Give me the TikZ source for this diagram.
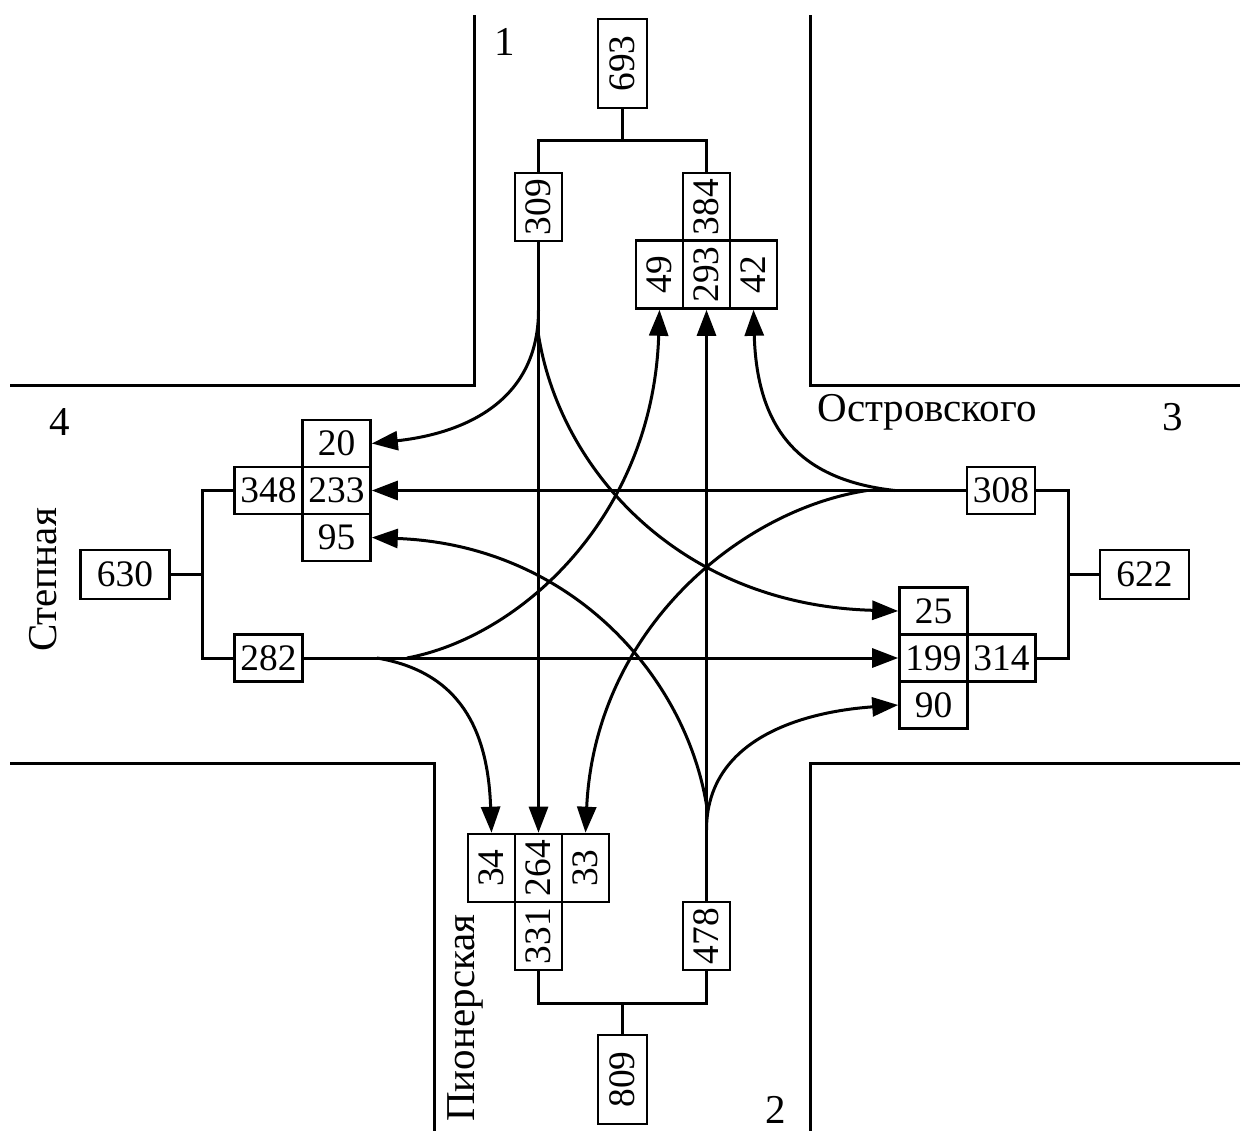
\documentclass[tikz,border=0pt]{standalone}
\usepackage{fontspec}
\setmainfont{Liberation Serif}
\usetikzlibrary{arrows.meta}
\begin{document}
\begin{tikzpicture}[x=0.5pt,y=-0.5pt,
  box/.style={draw, line width=1.3pt, inner sep=0.5pt, minimum width=34pt, minimum height=23.5pt},
  bigbox/.style={box, minimum width=44.5pt, minimum height=24.5pt},
  vbox/.style={box, rotate=90},
  vbigbox/.style={bigbox, rotate=90},
  road/.style={line width=1.5pt, line join=miter},
  link/.style={line width=1.5pt},
  arr/.style={line width=1.5pt, -{Triangle[length=13pt,width=9.5pt]}},
  lbl/.style={}]
\useasboundingbox (0,0) rectangle (1243,1131);
% roads
\draw[road] (474,15) -- (474,385) -- (10,385);
\draw[road] (810,15) -- (810,385) -- (1240,385);
\draw[road] (10,763) -- (434,763) -- (434,1131);
\draw[road] (1240,763) -- (810,763) -- (810,1131);
% labels
\node[lbl] (r1) at (505,42) {\fontsize{20.5pt}{24pt}\selectfont 1};
\node[lbl] (r2) at (776,1110) {\fontsize{20.5pt}{24pt}\selectfont 2};
\node[lbl] (r3) at (1173,417) {\fontsize{20.5pt}{24pt}\selectfont 3};
\node[lbl] (r4) at (60,422) {\fontsize{20.5pt}{24pt}\selectfont 4};
\node[lbl] (ostr) at (927,412) {\fontsize{20.5pt}{24pt}\selectfont Островского};
\node[lbl, rotate=90] (stp) at (43,580) {\fontsize{20.5pt}{24pt}\selectfont Степная};
\node[lbl, rotate=90] (pion) at (465,1018) {\fontsize{20.5pt}{24pt}\selectfont Пионерская};
% north group
\node[vbigbox] (n693) at (622.5,63.5) {\fontsize{18.7pt}{22pt}\selectfont 693};
\node[vbox] (n309) at (538.5,207) {\fontsize{18.7pt}{22pt}\selectfont 309};
\node[vbox] (n384) at (706.5,207) {\fontsize{18.7pt}{22pt}\selectfont 384};
\node[vbox] (n49) at (659.5,274.5) {\fontsize{18.7pt}{22pt}\selectfont 49};
\node[vbox] (n293) at (706.5,274.5) {\fontsize{18.7pt}{22pt}\selectfont 293};
\node[vbox] (n42) at (753.5,274.5) {\fontsize{18.7pt}{22pt}\selectfont 42};
% west group
\node[box] (n20) at (336.5,443.5) {\fontsize{18.7pt}{22pt}\selectfont 20};
\node[box] (n348) at (268.5,490.5) {\fontsize{18.7pt}{22pt}\selectfont 348};
\node[box] (n233) at (336.5,490.5) {\fontsize{18.7pt}{22pt}\selectfont 233};
\node[box] (n95) at (336.5,537.5) {\fontsize{18.7pt}{22pt}\selectfont 95};
\node[box] (n282) at (268.5,658) {\fontsize{18.7pt}{22pt}\selectfont 282};
\node[bigbox] (n630) at (125,574.5) {\fontsize{18.7pt}{22pt}\selectfont 630};
% east group
\node[box] (n308) at (1001,490.5) {\fontsize{18.7pt}{22pt}\selectfont 308};
\node[box] (n25) at (933.5,611) {\fontsize{18.7pt}{22pt}\selectfont 25};
\node[box] (n199) at (933.5,658) {\fontsize{18.7pt}{22pt}\selectfont 199};
\node[box] (n314) at (1001.5,658) {\fontsize{18.7pt}{22pt}\selectfont 314};
\node[box] (n90) at (933.5,705) {\fontsize{18.7pt}{22pt}\selectfont 90};
\node[bigbox] (n622) at (1144.5,574.5) {\fontsize{18.7pt}{22pt}\selectfont 622};
% south group
\node[vbox] (n34) at (491.5,868) {\fontsize{18.7pt}{22pt}\selectfont 34};
\node[vbox] (n264) at (538.5,868) {\fontsize{18.7pt}{22pt}\selectfont 264};
\node[vbox] (n33) at (585.5,868) {\fontsize{18.7pt}{22pt}\selectfont 33};
\node[vbox] (n331) at (538.5,936) {\fontsize{18.7pt}{22pt}\selectfont 331};
\node[vbox] (n478) at (706.5,936) {\fontsize{18.7pt}{22pt}\selectfont 478};
\node[vbigbox] (n809) at (622.5,1079.5) {\fontsize{18.7pt}{22pt}\selectfont 809};
% brackets
\coordinate (tj) at (622.5,140);
\coordinate (bj) at (622.5,1003);
\coordinate (lj) at (202,574.5);
\coordinate (rj) at (1068,574.5);
\draw[link] (n693.west) -- (tj);
\draw[link] (n309.east) |- (tj) -| (n384.east);
\draw[link] (n809.east) -- (bj);
\draw[link] (n331.west) |- (bj) -| (n478.west);
\draw[link] (n630.east) -- (lj);
\draw[link] (n348.west) -| (lj) |- (n282.west);
\draw[link] (n622.west) -- (rj);
\draw[link] (n308.east) -| (rj) |- (n314.east);
% straight flows
\draw[arr] (n309.west) -- (n264.east);
\draw[arr] (n478.east) -- (n293.west);
\draw[arr] (n308.west) -- (n233.east);
\draw[arr] (n282.east) -- (n199.west);
% turning flows
\coordinate (nA) at (538.5,310);
\coordinate (nB) at (538.5,335);
\coordinate (sA) at (706.5,830);
\coordinate (sB) at (706.5,805);
\coordinate (wA) at (377,658);
\coordinate (wB) at (407,658);
\coordinate (eA) at (895,490.5);
\coordinate (eB) at (867,490.5);
\draw[arr] (nA) .. controls (538.5,410) and (450,435) .. (n20.east);
\draw[arr] (nB) .. controls (560,470) and (680,605) .. (n25.west);
\draw[arr] (sA) .. controls (706.5,740) and (800,712) .. (n90.west);
\draw[arr] (sB) .. controls (685,675) and (570,545) .. (n95.east);
\draw[arr] (wA) .. controls (460,672) and (488,730) .. (n34.east);
\draw[arr] (wB) .. controls (520,637) and (653,517) .. (n49.west);
\draw[arr] (eA) .. controls (800,480) and (757,430) .. (n42.west);
\draw[arr] (eB) .. controls (740,510) and (595,630) .. (n33.east);
\end{tikzpicture}
\end{document}
